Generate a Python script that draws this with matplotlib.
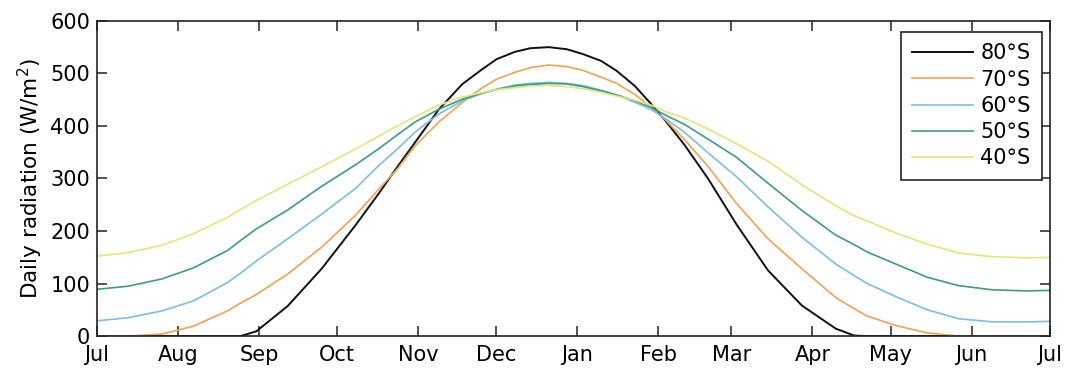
import numpy as np
import matplotlib
matplotlib.use("Agg")
import matplotlib.pyplot as plt

plt.rcParams['font.family'] = ['DejaVu Sans']
plt.rcParams['mathtext.default'] = 'regular'

# day of year counted from 1 July
days = [0, 12, 25, 37, 50, 55, 61, 73, 86, 99, 108, 115, 122, 131, 140, 147, 153,
        160, 166, 173, 180, 186, 193, 199, 206, 212, 218, 225, 234, 245, 257, 270,
        283, 290, 295, 306, 318, 330, 343, 356, 365]

s80 = [0, 0, 0, 0, 0, 0, 9, 57, 128, 211, 272, 322, 370, 432, 480, 506, 527,
       541, 548, 550, 546, 537, 524, 505, 476, 443, 408, 364, 300, 212, 125, 58,
       14, 1, 0, 0, 0, 0, 0, 0, 0]
s70 = [0, 0, 4, 19, 48, 63, 79, 118, 169, 230, 280, 318, 363, 408, 445, 471, 489,
       502, 511, 516, 513, 506, 493, 481, 460, 436, 410, 374, 323, 252, 185, 128,
       73, 52, 38, 20, 6, 0, 0, 0, 0]
s60 = [29, 35, 48, 67, 102, 120, 143, 185, 232, 281, 325, 356, 389, 423, 448, 461, 470,
       478, 481, 483, 481, 477, 468, 459, 445, 432, 413, 388, 349, 303, 246, 188,
       137, 115, 100, 75, 50, 33, 27, 27, 28]
s50 = [89, 95, 109, 130, 163, 182, 204, 240, 285, 326, 357, 383, 408, 432, 451, 462, 469,
       476, 479, 481, 480, 475, 467, 459, 448, 436, 420, 403, 375, 340, 291, 239,
       192, 174, 160, 137, 112, 96, 88, 86, 87]
s40 = [152, 159, 173, 195, 226, 241, 258, 289, 322, 356, 381, 400, 418, 440, 455, 463, 469,
       473, 476, 477, 475, 471, 464, 457, 449, 440, 427, 415, 394, 366, 333, 288,
       248, 229, 219, 196, 175, 158, 151, 149, 150]

labels = ['80°S', '70°S', '60°S', '50°S', '40°S']
colors = ['#111111', '#EFA452', '#7DBDE6', '#3E9C84', '#E4E67C']

month_pos = [0, 31, 62, 92, 123, 153, 184, 215, 243, 274, 304, 335, 365]
month_lab = ['Jul', 'Aug', 'Sep', 'Oct', 'Nov', 'Dec', 'Jan', 'Feb', 'Mar',
             'Apr', 'May', 'Jun', 'Jul']

fig = plt.figure(figsize=(10.66, 3.73), dpi=100)
ax = fig.add_axes([0.091, 0.099, 0.894, 0.845])

for s, lab, c in zip([s80, s70, s60, s50, s40], labels, colors):
    lw = 1.4 if lab == '80°S' else 1.2
    ax.plot(days, s, color=c, lw=lw, label=lab)

ax.set_xlim(0, 365)
ax.set_ylim(0, 600)
ax.set_xticks(month_pos)
ax.set_xticklabels(month_lab)
ax.set_yticks([0, 100, 200, 300, 400, 500, 600])
ax.tick_params(direction='in', length=7, width=1.1, top=True, right=True,
               labelsize=15, pad=5, colors='#222222', labelcolor='black')
ax.tick_params(axis='x', pad=6.5)
for sp in ax.spines.values():
    sp.set_linewidth(1.2)
    sp.set_color('#222222')
ax.set_ylabel('Daily radiation (W/m$^2$)', fontsize=15.5, labelpad=4)

leg = ax.legend(loc='upper right', bbox_to_anchor=(0.9916, 0.965), borderaxespad=0,
                fontsize=15, handlelength=2.9, handletextpad=0.35, labelspacing=0.3,
                fancybox=False, framealpha=1, borderpad=0.55)
leg.get_frame().set_edgecolor('#222222')
leg.get_frame().set_linewidth(1.2)

fig.savefig('out.png', dpi=100)
